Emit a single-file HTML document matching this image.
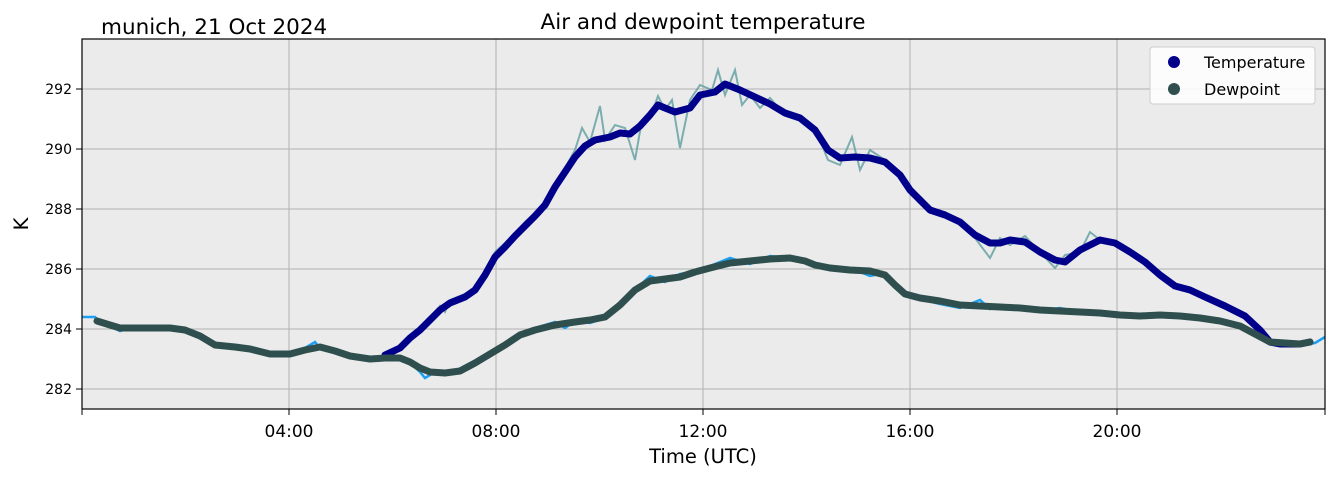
<!DOCTYPE html>
<html><head><meta charset="utf-8"><style>
body{margin:0;background:#fff;}
svg{display:block;font-family:"DejaVu Sans","Liberation Sans",sans-serif;}
</style></head><body>
<svg width="1335" height="478" viewBox="0 0 1335 478">
<rect x="82" y="39" width="1243" height="370" fill="#ebebeb"/>
<g stroke="#b0b0b0" stroke-width="1">
<line x1="289" y1="39" x2="289" y2="409"/><line x1="496" y1="39" x2="496" y2="409"/>
<line x1="703" y1="39" x2="703" y2="409"/><line x1="910" y1="39" x2="910" y2="409"/>
<line x1="1117" y1="39" x2="1117" y2="409"/>
<line x1="82" y1="389" x2="1325" y2="389"/><line x1="82" y1="329" x2="1325" y2="329"/>
<line x1="82" y1="269" x2="1325" y2="269"/><line x1="82" y1="209" x2="1325" y2="209"/>
<line x1="82" y1="149" x2="1325" y2="149"/><line x1="82" y1="89" x2="1325" y2="89"/>
</g>
<polyline fill="none" stroke="#5f9ea0" stroke-opacity="0.8" stroke-width="2" points="385,357 400,350 410,340 420,333 430,322 440,306 445,312 450,300 465,294 475,292 485,272 495,252 505,243 515,233 525,222 535,213 545,203 555,183 565,168 575,150 582,128 590,142 600,106 605,140 615,125 625,128 635,160 642,120 650,118 658,96 665,110 672,100 680,148 690,100 700,85 712,90 718,70 725,95 735,70 742,105 750,95 760,108 770,98 785,115 800,120 815,128 828,160 840,165 852,137 860,170 870,150 885,160 900,178 910,190 920,200 930,213 945,212 960,224 975,238 990,258 1000,238 1010,245 1025,236 1040,252 1055,268 1065,255 1080,252 1090,232 1100,240 1115,242 1130,250 1145,260 1160,273 1175,288 1190,290 1205,296 1225,305 1245,316 1260,332 1270,345 1300,345"/>
<polyline fill="none" stroke="#1e9ff0" stroke-width="2.5" points="82,317 95,317 100,322 110,326 120,331 135,327 150,328 170,327 185,331 200,336 215,346 235,346 250,350 270,355 290,353 305,348 315,342 320,348 335,352 350,357 370,360 385,359 400,357 410,363 420,372 425,378 435,372 445,375 460,372 475,361 490,354 505,344 520,336 535,328 555,322 565,328 575,321 590,323 605,318 612,310 620,305 635,290 650,276 665,282 680,274 695,272 710,266 730,258 750,264 770,256 790,258 805,262 815,266 830,270 850,268 870,276 885,273 895,287 905,296 920,299 940,304 960,308 980,300 990,309 1000,305 1020,307 1040,311 1060,308 1080,312 1100,315 1120,316 1140,314 1160,317 1180,316 1200,318 1220,321 1240,328 1255,334 1270,343 1300,345 1315,343 1325,337"/>
<polyline fill="none" stroke="#00008b" stroke-width="7" stroke-linecap="round" stroke-linejoin="round" points="385,355 400,348 410,338 420,330 430,320 440,310 450,303 465,297 475,290 485,275 495,257 505,247 515,236 525,226 535,216 545,205 555,187 565,172 575,157 585,146 595,140 610,137 620,133 630,134 640,126 650,115 658,105 665,108 675,112 690,108 700,95 715,92 725,84 740,90 755,97 770,104 785,113 800,118 815,130 828,150 840,158 855,157 870,158 885,162 900,175 910,190 920,200 930,210 945,215 960,222 975,235 990,243 1000,243 1010,240 1025,242 1040,252 1055,260 1065,262 1080,250 1100,240 1115,243 1130,252 1145,262 1160,275 1175,286 1190,290 1205,297 1225,306 1245,316 1260,330 1270,342 1280,344 1300,344 1310,342"/>
<polyline fill="none" stroke="#2f4f4f" stroke-width="7" stroke-linecap="round" stroke-linejoin="round" points="97,321 110,325 120,328 135,328 150,328 170,328 185,330 200,336 215,345 235,347 250,349 270,354 290,354 305,350 320,347 335,351 350,356 370,359 385,358 400,358 410,362 420,368 430,372 445,373 460,371 475,363 490,354 505,345 520,335 535,330 555,325 575,322 590,320 605,317 620,305 635,290 650,281 665,279 680,277 695,272 710,268 730,263 750,261 770,259 790,258 805,261 815,265 830,268 850,270 870,271 885,275 895,285 905,294 920,298 940,301 960,305 980,306 1000,307 1020,308 1040,310 1060,311 1080,312 1100,313 1120,315 1140,316 1160,315 1180,316 1200,318 1220,321 1240,326 1255,334 1270,342 1300,344 1310,342"/>
<rect x="82" y="39" width="1243" height="370" fill="none" stroke="#000" stroke-width="1.2"/>
<g stroke="#000" stroke-width="1">
<line x1="82" y1="409" x2="82" y2="415"/><line x1="289" y1="409" x2="289" y2="415"/><line x1="496" y1="409" x2="496" y2="415"/><line x1="703" y1="409" x2="703" y2="415"/><line x1="910" y1="409" x2="910" y2="415"/><line x1="1117" y1="409" x2="1117" y2="415"/><line x1="1325" y1="409" x2="1325" y2="415"/>
<line x1="76" y1="389" x2="82" y2="389"/><line x1="76" y1="329" x2="82" y2="329"/><line x1="76" y1="269" x2="82" y2="269"/><line x1="76" y1="209" x2="82" y2="209"/><line x1="76" y1="149" x2="82" y2="149"/><line x1="76" y1="89" x2="82" y2="89"/>
</g>
<g font-size="14" fill="#000" text-anchor="end">
<text x="72" y="394">282</text><text x="72" y="334">284</text><text x="72" y="274">286</text><text x="72" y="214">288</text><text x="72" y="154">290</text><text x="72" y="94">292</text>
</g>
<g font-size="17" fill="#000" text-anchor="middle">
<text x="289" y="437">04:00</text><text x="496" y="437">08:00</text><text x="703" y="437">12:00</text><text x="910" y="437">16:00</text><text x="1117" y="437">20:00</text>
<text x="703" y="463" font-size="19.5">Time (UTC)</text>
<text x="703" y="29" font-size="21.5">Air and dewpoint temperature</text>
</g>
<text x="101" y="34" font-size="21.5">munich, 21 Oct 2024</text>
<text transform="translate(28,224) rotate(-90)" font-size="19.5" text-anchor="middle">K</text>
<rect x="1150" y="47" width="165" height="57" rx="3" fill="#fff" fill-opacity="0.85" stroke="#ccc"/>
<circle cx="1174" cy="62" r="6" fill="#00008b"/><circle cx="1174" cy="89" r="6" fill="#2f4f4f"/>
<text x="1204" y="68" font-size="16">Temperature</text><text x="1204" y="95" font-size="16">Dewpoint</text>
</svg>
</body></html>
